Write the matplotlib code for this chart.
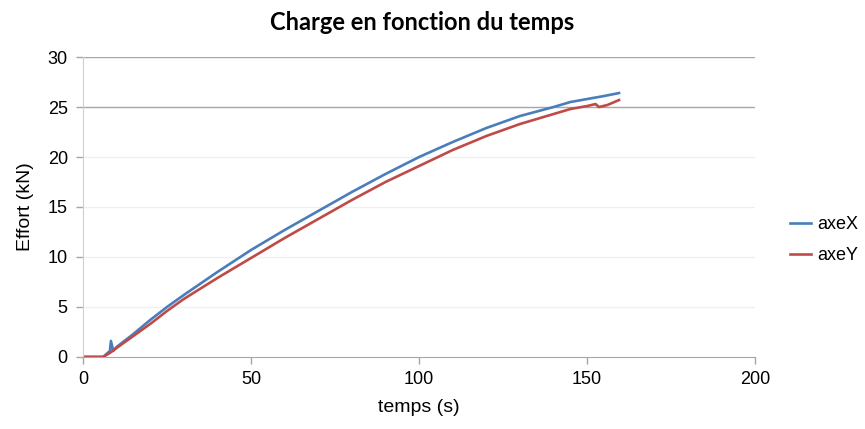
import matplotlib
matplotlib.use("Agg")
import matplotlib.pyplot as plt

# valeurs
t_x = [0, 6, 7, 8, 8.3, 9, 10, 15, 20, 25, 30, 40, 50, 60, 70, 80, 90, 100,
       110, 120, 130, 140, 145, 150, 155, 159.5]
axe_x = [0, 0, 0.3, 0.6, 1.6, 0.6, 1.0, 2.3, 3.7, 5.0, 6.2, 8.5, 10.7, 12.7,
         14.6, 16.5, 18.3, 20.0, 21.5, 22.9, 24.1, 25.0, 25.5, 25.8, 26.1, 26.4]

t_y = [0, 6, 7, 8, 10, 15, 20, 25, 30, 40, 50, 60, 70, 80, 90, 100, 110, 120,
       130, 140, 145, 150, 152.5, 153.5, 156, 159.5]
axe_y = [0, 0, 0.2, 0.4, 0.9, 2.1, 3.3, 4.6, 5.8, 7.9, 9.9, 11.9, 13.8, 15.7,
         17.5, 19.1, 20.7, 22.1, 23.3, 24.3, 24.8, 25.1, 25.3, 25.0, 25.2, 25.7]

x_ticks = [0, 50, 100, 150, 200]
y_ticks = [0, 5, 10, 15, 20, 25, 30]

plt.rcParams['font.family'] = ['Liberation Sans', 'DejaVu Sans']

fig = plt.figure(figsize=(8.65, 4.29), dpi=100)
ax = fig.add_axes([0.096, 0.168, 0.777, 0.699])

# grille : lignes claires, 25 et 30 plus marquees
for v in y_ticks[1:]:
    c = '#a6a6a6' if v >= 25 else '#f0f0f0'
    ax.axhline(v, color=c, lw=1.0, zorder=0)

l1, = ax.plot(t_x, axe_x, color='#4a7ebb', lw=1.9, label='axeX')
l2, = ax.plot(t_y, axe_y, color='#be4b48', lw=1.9, label='axeY')

ax.set_xlim(0, 200)
ax.set_ylim(0, 30)
ax.set_xticks(x_ticks)
ax.set_yticks(y_ticks)
ax.tick_params(axis='both', labelsize=13, color='#a6a6a6', length=5, width=1)
ax.tick_params(axis='x', pad=5)
ax.tick_params(axis='y', pad=6)

for s in ['top', 'right']:
    ax.spines[s].set_visible(False)
ax.spines['left'].set_color('#d0d0d0')
ax.spines['bottom'].set_color('#a6a6a6')

ax.set_xlabel('temps (s)', fontsize=14, labelpad=8)
ax.set_ylabel('Effort (kN)', fontsize=14, labelpad=10)
fig.text(0.488, 0.948, 'Charge en fonction du temps', ha='center', va='center',
         fontsize=17, fontweight='bold', family=['Lato', 'DejaVu Sans'])

fig.legend(handles=[l1, l2], loc='center left', bbox_to_anchor=(0.913, 0.44),
           frameon=False, fontsize=13, handlelength=1.2, labelspacing=0.75,
           handletextpad=0.3, borderpad=0, borderaxespad=0)

fig.savefig('out.png', dpi=100)
